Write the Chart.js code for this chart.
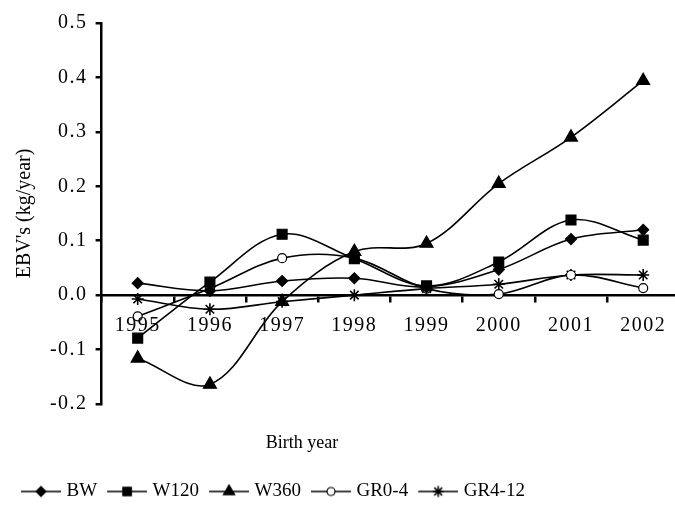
<!DOCTYPE html>
<html>
<head>
<title>EBV's by birth year</title>
<script src="https://cdn.jsdelivr.net/npm/chart.js@4.4.0/dist/chart.umd.min.js"></script>
<style>
  html, body { margin: 0; padding: 0; background: #fff; overflow: hidden; }
  #wrap { width: 688px; height: 519px; }
</style>
</head>
<body>
<div id="wrap"><canvas id="myChart" width="688" height="519"></canvas></div>
<script>
    // data
    var years = ['1995', '1996', '1997', '1998', '1999', '2000', '2001', '2002'];
    var bw    = [0.022, 0.008, 0.026, 0.031, 0.015, 0.047, 0.103, 0.120];
    var w120  = [-0.079, 0.024, 0.112, 0.067, 0.017, 0.061, 0.138, 0.101];
    var w360  = [-0.116, -0.164, -0.012, 0.080, 0.095, 0.205, 0.290, 0.394];
    var gr04  = [-0.039, 0.012, 0.068, 0.068, 0.012, 0.002, 0.037, 0.013];
    var gr412 = [-0.007, -0.026, -0.012, 0.000, 0.012, 0.020, 0.037, 0.037];
    var seriesNames = ['BW', 'W120', 'W360', 'GR0-4', 'GR4-12'];
    var yTicks = [-0.2, -0.1, 0.0, 0.1, 0.2, 0.3, 0.4, 0.5];

    var FONT = '"Liberation Serif", "Times New Roman", serif';
    Chart.defaults.font.family = FONT;
    Chart.defaults.color = '#000';

    // marker looks, one per series
    var markers = [
        {style: 'rectRot', radius: 5.5, fill: '#000', legendRadius: 5},
        {style: 'rect', radius: 7, fill: '#000', legendRadius: 6},
        {style: 'triangle', radius: 7.5, fill: '#000', legendRadius: 6.5},
        {style: 'circle', radius: 4.5, fill: '#fff', legendRadius: 4},
        {style: 'star', radius: 6, fill: '#000', legendRadius: 5.5}
    ];

    // legend icon: short line with the marker in the middle
    function makeIcon(m) {
        var c = document.createElement('canvas');
        c.width = 44; c.height = 16;
        var g = c.getContext('2d');
        g.strokeStyle = '#000';
        g.lineWidth = 1.4;
        g.beginPath(); g.moveTo(4, 8); g.lineTo(44, 8); g.stroke();
        g.fillStyle = m.fill;
        g.lineWidth = m.style === 'star' ? 1.5 : 1.2;
        Chart.helpers.drawPoint(g, {pointStyle: m.style, radius: m.legendRadius, borderWidth: g.lineWidth, rotation: 0}, 24, 8);
        return c;
    }
    var legendIcons = markers.map(makeIcon);

    var allValues = [bw, w120, w360, gr04, gr412];
    var dataSource = {
        labels: years,
        datasets: allValues.map(function (vals, i) {
            var m = markers[i];
            return {
                label: seriesNames[i],
                data: vals,
                borderColor: '#000',
                borderWidth: 1.6,
                tension: 0.35,
                fill: false,
                pointStyle: m.style,
                pointRadius: m.radius,
                pointHoverRadius: m.radius,
                pointBackgroundColor: m.fill,
                pointBorderColor: '#000',
                pointBorderWidth: m.style === 'star' ? 1.6 : 1.2
            };
        })
    };

    // axis text in the original is spaced out; scale labels are drawn after the datasets (z: 1)
    var spacingPlugin = {
        id: 'spacing',
        afterDatasetsDraw: function (chart) { chart.ctx.letterSpacing = '1.5px'; },
        afterDraw: function (chart) {
            var ctx = chart.ctx;
            ctx.letterSpacing = '0px';
            // "Birth year" sits off-centre in the original, so it is drawn by hand
            ctx.save();
            ctx.font = '18px ' + FONT;
            ctx.fillStyle = '#000';
            ctx.textAlign = 'center';
            ctx.textBaseline = 'middle';
            ctx.fillText('Birth year', 302, 443);
            ctx.restore();
        }
    };

    function createChart() {
        var ctx = document.getElementById('myChart').getContext('2d');
        var myLineChart = new Chart(ctx, {
            type: 'line',
            data: dataSource,
            plugins: [spacingPlugin],
            options: {
                responsive: false,
                animation: false,
                layout: {padding: {top: 23, left: 11, right: 0, bottom: 8}},
                plugins: {
                    tooltip: {enabled: false},
                    legend: {
                        position: 'bottom',
                        align: 'start',
                        title: {display: true, text: '', font: {size: 10}, padding: {top: 56, bottom: 0}},
                        labels: {
                            usePointStyle: true,
                            pointStyleWidth: 36,
                            padding: 10,
                            font: {size: 19},
                            generateLabels: function (chart) {
                                var items = Chart.defaults.plugins.legend.labels.generateLabels(chart);
                                items.forEach(function (it) { it.pointStyle = legendIcons[it.datasetIndex]; });
                                return items;
                            }
                        }
                    }
                },
                scales: {
                    x: {
                        position: {y: 0},
                        offset: true,
                        grid: {offset: true, drawOnChartArea: false, color: '#000', tickLength: 6, lineWidth: 2.5},
                        border: {color: '#000', width: 2.5},
                        ticks: {z: 1, font: {size: 20}, padding: 13, maxRotation: 0, autoSkip: false}
                    },
                    y: {
                        min: -0.2,
                        max: 0.5,
                        afterFit: function (scale) { scale.width = 90.6; },
                        afterBuildTicks: function (scale) {
                            scale.ticks = yTicks.map(function (v) { return {value: v}; });
                        },
                        grid: {drawOnChartArea: false, color: '#000', tickLength: 6, lineWidth: 2.5},
                        border: {color: '#000', width: 2.5},
                        ticks: {
                            z: 1,
                            font: {size: 20},
                            padding: 8,
                            callback: function (v) { return Number(v).toFixed(1); }
                        },
                        title: {display: true, text: "EBV's (kg/year)", font: {size: 20}, padding: {top: 2, bottom: 0}}
                    }
                }
            }
        });
    }
    createChart();
</script>
</body>
</html>
